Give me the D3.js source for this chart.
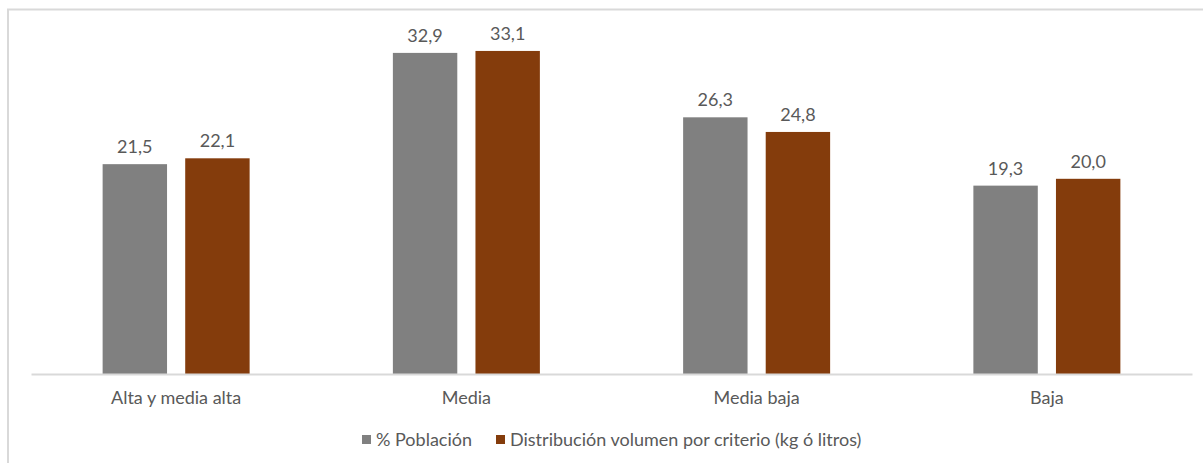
<!DOCTYPE html>
<html lang="es">
<head>
<meta charset="UTF-8">
<script src="https://cdn.jsdelivr.net/npm/d3@7"></script>
<style>
  body { margin: 0; background: #fff; }
  text { font-family: Lato, "Open Sans", sans-serif; fill: #595959; }
</style>
</head>
<body>
<script>
  var categories = ['Alta y media alta', 'Media', 'Media baja', 'Baja'];
  var seriesNames = ['% Población', 'Distribución volumen por criterio (kg ó litros)'];
  var poblacion = [21.5, 32.9, 26.3, 19.3];
  var volumen = [22.1, 33.1, 24.8, 20.0];
  var colors = ['#808080', '#843c0c'];

  var width = 1203, height = 463;
  var plotLeft = 31, plotRight = 1192, plotBase = 374, plotTop = 32.4;

  var svg = d3.select('body').append('svg')
    .attr('width', width)
    .attr('height', height);

  // frame (only top and left visible in the original crop)
  svg.append('path')
    .attr('d', 'M8,463 V9.5 H1203')
    .attr('fill', 'none')
    .attr('stroke', '#d9d9d9')
    .attr('stroke-width', 2);

  var x0 = d3.scaleBand().domain(categories).range([plotLeft, plotRight]);
  var x1 = d3.scaleBand().domain([0, 1]).range([x0.bandwidth() / 2 - 73.5, x0.bandwidth() / 2 + 73.5]).paddingInner(0.22);
  var y = d3.scaleLinear().domain([0, 35]).range([plotBase, plotTop]);

  var fmt = function(v) { return d3.format('.1f')(v).replace('.', ','); };

  var groups = svg.selectAll('.grp')
    .data(categories)
    .enter().append('g')
    .attr('transform', function(d) { return 'translate(' + x0(d) + ',0)'; });

  groups.each(function(c, i) {
    var g = d3.select(this);
    var vals = [poblacion[i], volumen[i]];
    g.selectAll('rect')
      .data(vals)
      .enter().append('rect')
      .attr('x', function(d, j) { return x1(j); })
      .attr('width', x1.bandwidth())
      .attr('y', function(d) { return y(d); })
      .attr('height', function(d) { return plotBase - y(d); })
      .attr('fill', function(d, j) { return colors[j]; });
    g.selectAll('.lbl')
      .data(vals)
      .enter().append('text')
      .attr('class', 'lbl')
      .attr('x', function(d, j) { return x1(j) + x1.bandwidth() / 2; })
      .attr('y', function(d) { return y(d) - 11; })
      .attr('text-anchor', 'middle')
      .style('font-size', '18px')
      .text(fmt);
  });

  // x axis
  var xAxis = svg.append('g')
    .attr('transform', 'translate(0,' + plotBase + ')')
    .call(d3.axisBottom(x0).tickSize(0).tickPadding(17));
  xAxis.select('.domain').attr('stroke', '#d9d9d9').attr('stroke-width', 2);
  xAxis.selectAll('text').style('font-size', '18px').style('font-family', 'Lato, sans-serif').attr('fill', '#595959');

  // legend
  var legX = [362, 496];
  var leg = svg.selectAll('.leg')
    .data(seriesNames)
    .enter().append('g')
    .attr('transform', function(d, i) { return 'translate(' + legX[i] + ',435)'; });
  leg.append('rect')
    .attr('width', 9).attr('height', 9)
    .attr('fill', function(d, i) { return colors[i]; });
  leg.append('text')
    .attr('x', 14).attr('y', 10.5)
    .style('font-size', '18px')
    .text(function(d) { return d; });
</script>
</body>
</html>
